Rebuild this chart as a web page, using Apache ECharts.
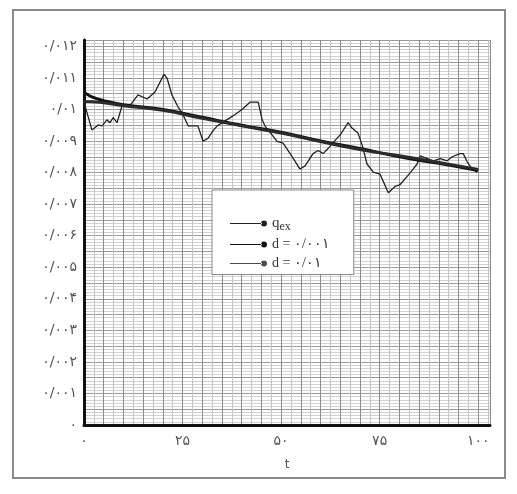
<!DOCTYPE html>
<html>
<head>
<meta charset="utf-8">
<script src="https://cdn.jsdelivr.net/npm/echarts@6/dist/echarts.min.js"></script>
<style>
  html, body { margin: 0; padding: 0; background: #fff; }
  #chart { width: 517px; height: 494px; }
</style>
</head>
<body>
<div id="chart"></div>
<script>
// q_ex measured series (t, value)
const qexT = [0, 2.0, 3.6, 4.6, 5.8, 6.6, 7.4, 8.4, 9.6, 11.7,
  13.7, 16.0, 18.0, 20.3, 21.1, 22.3, 23.9, 25.1, 26.4, 28.9,
  30.2, 31.5, 32.7, 33.8, 37.1, 38.3, 40.1, 42.1, 44.2, 45.2,
  45.9, 49.0, 50.5, 52.3, 54.8, 56.1, 58.1, 59.4, 60.7, 61.9,
  64.2, 65.0, 67.0, 68.0, 69.5, 70.6, 71.8, 73.4, 75.1, 77.2,
  78.9, 80.2, 82.0, 83.5, 84.5, 85.3, 88.6, 90.4, 92.1, 93.4,
  95.4, 96.2, 97.2, 98.5, 99.7]
const qexV = [0.01023, 0.00935, 0.00951, 0.00948, 0.00967, 0.00958, 0.00974, 0.00958, 0.01010, 0.01013,
  0.01046, 0.01033, 0.01055, 0.01111, 0.01098, 0.01046, 0.01007, 0.00984, 0.00948, 0.00948,
  0.00899, 0.00909, 0.00932, 0.00948, 0.00974, 0.00984, 0.01000, 0.01023, 0.01023, 0.00967,
  0.00948, 0.00899, 0.00893, 0.00860, 0.00811, 0.00821, 0.00860, 0.00870, 0.00860, 0.00876,
  0.00909, 0.00919, 0.00958, 0.00941, 0.00925, 0.00886, 0.00827, 0.00801, 0.00795, 0.00736,
  0.00756, 0.00762, 0.00788, 0.00811, 0.00827, 0.00853, 0.00837, 0.00844, 0.00837, 0.00850,
  0.00860, 0.00860, 0.00834, 0.00811, 0.00801]

// smooth model curves
const dT = [0, 2, 5, 10, 20, 30, 40, 50, 60, 70, 80, 90, 100]
const d001V = [0.01055, 0.0104, 0.01028, 0.01015, 0.0100, 0.00975, 0.0095, 0.00928, 0.0090, 0.00876, 0.0085, 0.00829, 0.00806]
const d01V = [0.01025, 0.01024, 0.01021, 0.01012, 0.00997, 0.00972, 0.00948, 0.00925, 0.00898, 0.00873, 0.00853, 0.00832, 0.0081]

const seriesNames = ['qex', 'd = ۰/۰۰۱', 'd = ۰/۰۱']
const xTickValues = [0, 25, 50, 75, 100]
const yTickStep = 0.001

// latin digits -> persian digits, '.' -> '/'
const faDigits = '۰۱۲۳۴۵۶۷۸۹'
function toFa(str) {
  return String(str).replace(/[0-9]/g, d => faDigits[+d]).replace('.', '/')
}

function pairs(xs, ys) {
  return xs.map((x, i) => [x, ys[i]])
}

const legendIcon = 'path://M0,3.5 L32,3.5 L32,4.5 L0,4.5 Z M31,4 A3,3 0 1,0 37,4 A3,3 0 1,0 31,4 Z'

const myChart = echarts.init(document.getElementById('chart'))
myChart.setOption({
  backgroundColor: '#fff',
  animation: false,
  graphic: [{
    type: 'rect',
    shape: { x: 13, y: 10, width: 492, height: 468 },
    style: { fill: 'none', stroke: '#8a8a8a', lineWidth: 2 },
    z: -1
  }],
  grid: { left: 84, top: 40, right: 27, bottom: 69 },
  legend: {
    left: 212,
    top: 190,
    orient: 'vertical',
    width: 135,
    padding: [26, 24, 4, 18],
    backgroundColor: '#fff',
    borderColor: '#888',
    borderWidth: 1,
    itemGap: 5,
    itemWidth: 37,
    itemHeight: 6,
    icon: legendIcon,
    data: seriesNames,
    formatter: function (name) {
      if (name === 'qex') return '{q|q}{s|ex}'
      return '{n|' + name + '}'
    },
    textStyle: {
      color: '#333',
      fontFamily: 'Liberation Serif',
      fontSize: 14,
      rich: {
        q: { fontFamily: 'Liberation Serif', fontSize: 15, color: '#333' },
        s: { fontFamily: 'Liberation Serif', fontSize: 12, color: '#333', verticalAlign: 'bottom', padding: [6, 0, 0, 0] },
        n: { fontFamily: 'Liberation Serif', fontSize: 14, color: '#333' }
      }
    }
  },
  xAxis: {
    type: 'value',
    min: 0,
    max: 103,
    interval: 5,
    name: 't',
    nameLocation: 'middle',
    nameGap: 34,
    nameTextStyle: { color: '#555', fontFamily: 'DejaVu Sans', fontSize: 12 },
    axisLine: { show: true, lineStyle: { color: '#111', width: 3 } },
    axisTick: { show: false },
    axisLabel: {
      color: '#555',
      fontFamily: 'DejaVu Sans',
      fontSize: 14,
      margin: 9,
      formatter: function (v) {
        return xTickValues.indexOf(Math.round(v)) >= 0 && Math.abs(v - Math.round(v)) < 1e-6 ? toFa(Math.round(v)) : ''
      }
    },
    splitLine: { show: true, lineStyle: { color: '#8c8c8c', width: 1 } },
    minorTick: { show: false, splitNumber: 2 },
    minorSplitLine: { show: true, lineStyle: { color: '#c4c4c4', width: 1 } }
  },
  yAxis: {
    type: 'value',
    min: 0,
    max: 0.0122,
    interval: 0.0005,
    axisLine: { show: true, lineStyle: { color: '#111', width: 3 } },
    axisTick: { show: false },
    axisLabel: {
      color: '#555',
      fontFamily: 'DejaVu Sans',
      fontSize: 14,
      margin: 7,
      formatter: function (v) {
        const k = Math.round(v / yTickStep * 2)
        if (k % 2 !== 0 || Math.abs(v - k * yTickStep / 2) > 1e-9 || v > 0.0121) return ''
        return toFa(Math.round(v * 1000) / 1000)
      }
    },
    splitLine: { show: true, lineStyle: { color: '#9a9a9a', width: 1 } },
    minorTick: { show: false, splitNumber: 5 },
    minorSplitLine: { show: true, lineStyle: { color: '#d2d2d2', width: 1 } }
  },
  series: [
    {
      name: seriesNames[0],
      type: 'line',
      data: pairs(qexT, qexV),
      showSymbol: false,
      color: '#222',
      lineStyle: { color: '#222', width: 1.3 },
      z: 3
    },
    {
      name: seriesNames[1],
      type: 'line',
      data: pairs(dT, d001V),
      smooth: true,
      showSymbol: false,
      color: '#111',
      lineStyle: { color: '#111', width: 3 },
      z: 4
    },
    {
      name: seriesNames[2],
      type: 'line',
      data: pairs(dT, d01V),
      smooth: true,
      showSymbol: false,
      color: '#4a4a58',
      lineStyle: { color: '#2a2a30', width: 3 },
      z: 4
    }
  ]
})
window.addEventListener('resize', myChart.resize)
</script>
</body>
</html>
